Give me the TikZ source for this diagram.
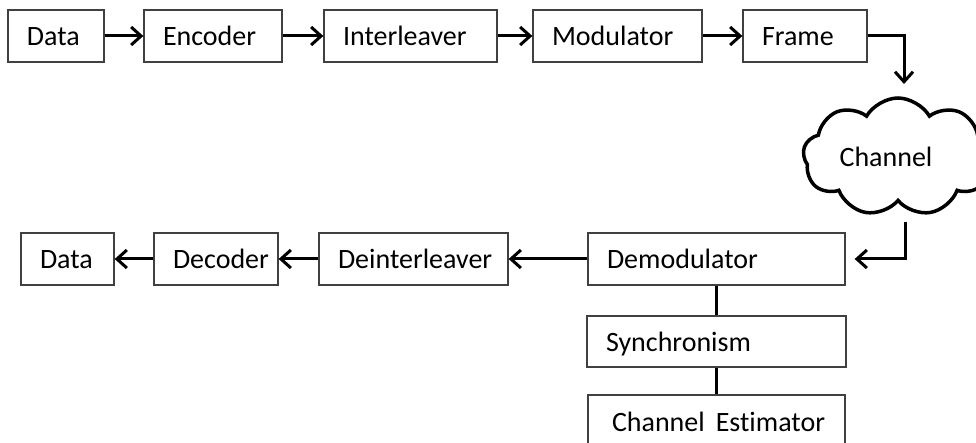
\documentclass[tikz,border=0pt]{standalone}
\usepackage{fontspec}
\setmainfont{Carlito}[Ligatures=NoCommon]
\usetikzlibrary{arrows.meta,shapes.symbols}

\tikzset{
  blk/.style={draw=black!75, line width=1.3pt, minimum height=52pt, inner ysep=0pt,
    inner xsep=19pt, align=left, text height=22pt, text depth=2pt,
    font=\fontsize{28}{30}\selectfont},
  bw/.style={text width=#1pt-38pt},
  flow/.style={line width=3pt, -{Straight Barb[length=10pt,width=18pt]}},
  link/.style={line width=3pt},
}

\begin{document}
\begin{tikzpicture}[x=1pt,y=-1pt]
\useasboundingbox (0,0) rectangle (976,443);
\clip (0,0) rectangle (976,443);

% transmitter chain
\node[blk, bw=96]  (src)  at (56,36)    {Data};
\node[blk, bw=138] (enc)  at (213,36)   {Encoder};
\node[blk, bw=173] (intl) at (410.5,36) {Interleaver};
\node[blk, bw=169] (mod)  at (617.5,36) {Modulator};
\node[blk, bw=124] (frm)  at (805,36)   {Frame};

% channel
\node[cloud, draw, line width=3.5pt, cloud puffs=9, cloud puff arc=120,
      cloud ignores aspect, minimum width=190pt, minimum height=118pt,
      inner sep=0pt, font=\fontsize{28}{30}\selectfont] (ch) at (898,157) {\hspace*{-24pt}Channel};

% receiver chain
\node[blk, bw=93]  (snk)   at (67.5,259)  {Data};
\node[blk, bw=124] (dec)   at (216,259)   {Decoder};
\node[blk, bw=189] (deint) at (413.5,259) {Deinterleaver};
\node[blk, bw=257] (demod) at (716.5,259) {Demodulator};
\node[blk, bw=259, minimum height=51pt] (sync) at (716.5,341.5) {Synchronism};
\node[blk, bw=257] (est)   at (716.5,421) {\mbox{\hspace*{5pt}Channel\hspace{11pt}Estimator}};

% free ends of the channel links
\coordinate (chin)  at (904,84);
\coordinate (chout) at (905,222);

% connectors
\draw[flow] (src) -- (enc);
\draw[flow] (enc) -- (intl);
\draw[flow] (intl) -- (mod);
\draw[flow] (mod) -- (frm);
\draw[flow] (frm.east) -| (chin);
\draw[flow, shorten >=9pt] (chout) |- (demod.east);
\draw[flow] (demod) -- (deint);
\draw[flow] (deint) -- (dec);
\draw[flow] (dec) -- (snk);
\draw[link] (demod) -- (sync);
\draw[link] (sync) -- (est);
\end{tikzpicture}
\end{document}
